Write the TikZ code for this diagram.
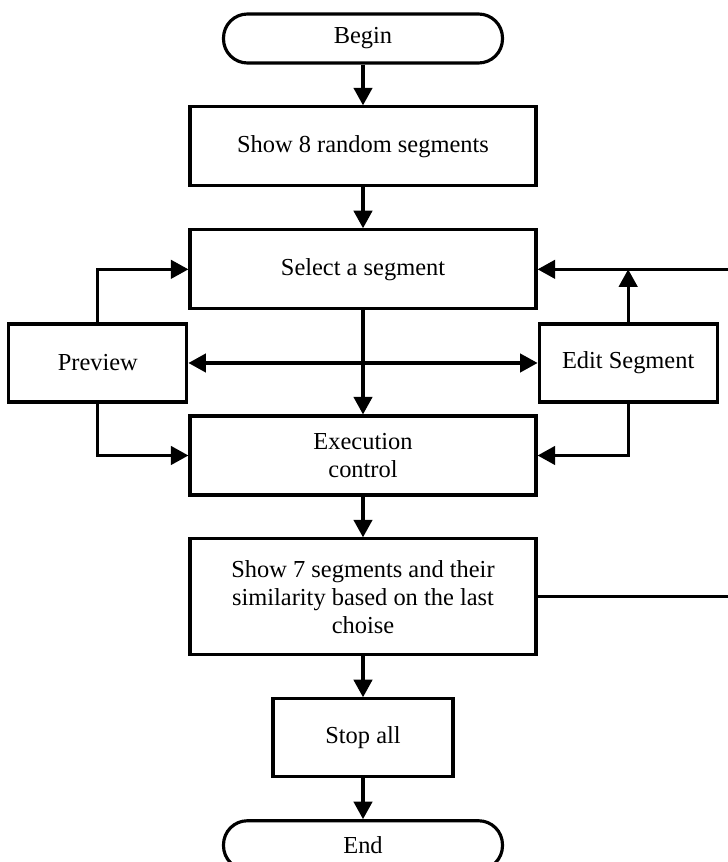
\documentclass[tikz,border=0pt]{standalone}
\usepackage{fontspec}
\setmainfont{Liberation Serif}
\usetikzlibrary{arrows.meta,positioning}

\begin{document}
\begin{tikzpicture}[node distance=0.815cm, line width=1.8pt,
  every node/.style={draw, rectangle, align=center, font=\fontsize{13.9}{15.8}\selectfont},
  terminal/.style={minimum width=5.58cm, minimum height=0.98cm, rounded corners=0.48cm},
  wide/.style={minimum width=6.92cm, minimum height=1.58cm},
  side/.style={minimum width=3.56cm, minimum height=1.56cm},
  arr/.style={-{Triangle[length=10pt,width=10.5pt]}},
  arrs/.style={{Triangle[length=10pt,width=10.5pt]}-{Triangle[length=10pt,width=10.5pt]}}]
\useasboundingbox (0,0) rectangle (14.56,-17.24);
\node[terminal] (begin) at (7.26,-0.77) {Begin};
\node[wide] (show8) [below=of begin] {Show 8 random segments};
\node[wide] (select) [below=of show8] {Select a segment};
\node[side] (preview) [below left=0.24cm and 0cm of select.south west] {Preview};
\node[side] (edit) [below right=0.24cm and 0cm of select.south east] {Edit Segment};
\node[wide] (exec) [below=2.08cm of select] {Execution\\control};
\node[wide, minimum height=2.32cm] (show7) [below=of exec] {Show 7 segments and their\\similarity based on the last\\choise};
\node[side, minimum width=3.6cm] (stop) [below=of show7] {Stop all};
\node[terminal] (end) [below=of stop] {End};
\coordinate (join) at (edit.north |- select.east);
\coordinate (rightside) at (14.8,0);

\draw[arr] (begin) -- (show8);
\draw[arr] (show8) -- (select);
\draw[arr] (select) -- (exec);
\draw[arr] (exec) -- (show7);
\draw[arr] (show7) -- (stop);
\draw[arr] (stop) -- (end);
\draw[arrs] (preview) -- (edit);
\draw[arr] (preview.north) |- (select.west);
\draw[arr] (preview.south) |- (exec.west);
\draw[arr] (edit.north) -- (join);
\draw[arr] (edit.south) |- (exec.east);
\draw[arr] (show7.east) -- (show7.east -| rightside) -- (select.east -| rightside) -- (select.east);
\end{tikzpicture}
\end{document}
